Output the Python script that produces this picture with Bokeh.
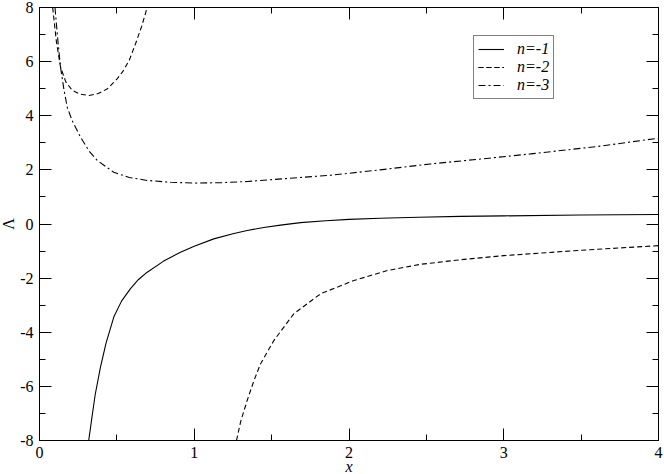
from bokeh.plotting import figure
from bokeh.models import FixedTicker, LinearAxis, Range1d, Legend, LegendItem
from bokeh.embed import file_html
from bokeh.resources import INLINE

# ---- data ----
x_n1 = [0.318, 0.34, 0.36, 0.394, 0.43, 0.48, 0.53, 0.588, 0.64, 0.696, 0.8, 0.911, 1.0,
        1.126, 1.25, 1.342, 1.45, 1.557, 1.687, 1.85, 2.0, 2.2, 2.45, 2.72, 3.0, 3.5, 4.0]
y_n1 = [-8.0, -7.1, -6.3, -5.29, -4.4, -3.44, -2.85, -2.39, -2.05, -1.78, -1.38, -1.04, -0.82,
        -0.55, -0.36, -0.24, -0.13, -0.04, 0.05, 0.12, 0.17, 0.21, 0.25, 0.28, 0.30, 0.33, 0.35]

x_n2_left = [0.085, 0.11, 0.136, 0.17, 0.21, 0.26, 0.32, 0.38, 0.44, 0.5, 0.54, 0.58, 0.62, 0.66, 0.696]
y_n2_left = [8.0, 6.7, 5.8, 5.25, 4.95, 4.8, 4.75, 4.82, 5.0, 5.35, 5.65, 6.05, 6.65, 7.3, 8.0]

x_n2_right = [1.273, 1.30, 1.342, 1.385, 1.428, 1.514, 1.643, 1.816, 2.031, 2.247, 2.462, 2.72, 3.0, 3.5, 4.0]
y_n2_right = [-8.0, -7.3, -6.52, -5.8, -5.17, -4.31, -3.32, -2.58, -2.09, -1.72, -1.49, -1.32, -1.17, -0.97, -0.8]

x_n3 = [0.10, 0.12, 0.136, 0.157, 0.179, 0.211, 0.265, 0.32, 0.373, 0.48, 0.58, 0.696, 0.85,
        1.019, 1.18, 1.342, 1.665, 1.88, 2.2, 2.527, 2.85, 3.173, 3.6, 4.0]
y_n3 = [8.0, 6.7, 5.79, 5.0, 4.32, 3.82, 3.21, 2.7, 2.35, 1.91, 1.72, 1.61, 1.54,
        1.51, 1.53, 1.57, 1.71, 1.80, 2.0, 2.22, 2.40, 2.59, 2.86, 3.17]

legend_labels = ["n=-1", "n=-2", "n=-3"]

x_ticks = [0, 1, 2, 3, 4]
x_tick_labels = ["0", "1", "2", "3", "4"]
x_minor = [0.5, 1.5, 2.5, 3.5]
y_ticks = [-8, -6, -4, -2, 0, 2, 4, 6, 8]
y_tick_labels = ["-8", "-6", "-4", "-2", "0", "2", "4", "6", "8"]
y_minor = [-7, -5, -3, -1, 1, 3, 5, 7]

FONT = "'Liberation Serif', 'Times New Roman', 'DejaVu Serif', serif"

p = figure(width=667, height=480, x_range=Range1d(0, 4), y_range=Range1d(-8, 8),
           output_backend="svg", toolbar_location=None,
           min_border_left=39, min_border_right=6, min_border_top=7, min_border_bottom=40)
p.margin = (0, -8, -10, -3)
p.xgrid.visible = False
p.ygrid.visible = False
p.outline_line_color = "black"
p.outline_line_width = 1
p.background_fill_color = "white"
p.border_fill_color = "white"


def style_axis(ax, ticks, minor, labels, show_labels):
    ax.ticker = FixedTicker(ticks=ticks, minor_ticks=minor)
    ax.major_tick_in = 12
    ax.major_tick_out = 0
    ax.minor_tick_in = 6
    ax.minor_tick_out = 0
    ax.axis_line_color = "black"
    ax.major_tick_line_color = "black"
    ax.minor_tick_line_color = "black"
    ax.axis_line_width = 1
    ax.major_label_text_font = FONT
    ax.major_label_text_color = "black"
    if show_labels:
        ax.major_label_overrides = {t: l for t, l in zip(ticks, labels)}
        ax.major_label_text_font_size = "16px"
    else:
        ax.major_label_overrides = {t: "" for t in ticks}
        ax.major_label_text_font_size = "0px"
        ax.major_label_standoff = 0


xb = p.xaxis[0]
yl = p.yaxis[0]
style_axis(xb, x_ticks, x_minor, x_tick_labels, True)
style_axis(yl, y_ticks, y_minor, y_tick_labels, True)
xb.major_label_standoff = 6
yl.major_label_standoff = 6
xb.axis_label = "x"
xb.axis_label_text_font = FONT
xb.axis_label_text_font_style = "italic"
xb.axis_label_text_font_size = "16px"
xb.axis_label_text_color = "black"
xb.axis_label_standoff = -3
yl.axis_label = "Λ"
yl.axis_label_text_font = FONT
yl.axis_label_text_font_style = "normal"
yl.axis_label_text_font_size = "16px"
yl.axis_label_text_color = "black"
yl.axis_label_standoff = 0

xt = LinearAxis()
style_axis(xt, x_ticks, x_minor, x_tick_labels, False)
p.add_layout(xt, "above")
yr = LinearAxis()
style_axis(yr, y_ticks, y_minor, y_tick_labels, False)
p.add_layout(yr, "right")

r1 = p.line(x_n1, y_n1, line_color="black", line_width=1.1)
r2a = p.line(x_n2_left, y_n2_left, line_color="black", line_width=1.1, line_dash="5 3")
r2b = p.line(x_n2_right, y_n2_right, line_color="black", line_width=1.1, line_dash="5 3")
r3 = p.line(x_n3, y_n3, line_color="black", line_width=1.1, line_dash="7 3 2 3")

legend = Legend(items=[
    LegendItem(label=legend_labels[0], renderers=[r1]),
    LegendItem(label=legend_labels[1], renderers=[r2a, r2b]),
    LegendItem(label=legend_labels[2], renderers=[r3]),
], location=(434, 341))
legend.border_line_color = "black"
legend.border_line_width = 1
legend.background_fill_color = "white"
legend.background_fill_alpha = 1
legend.padding = 4
legend.spacing = 0
legend.margin = 0
legend.label_height = 18
legend.glyph_height = 18
legend.glyph_width = 26
legend.label_standoff = 13
legend.label_text_font = FONT
legend.label_text_font_style = "italic"
legend.label_text_font_size = "16px"
legend.label_text_color = "black"
p.add_layout(legend)

open("out.html", "w").write(file_html(p, INLINE))
